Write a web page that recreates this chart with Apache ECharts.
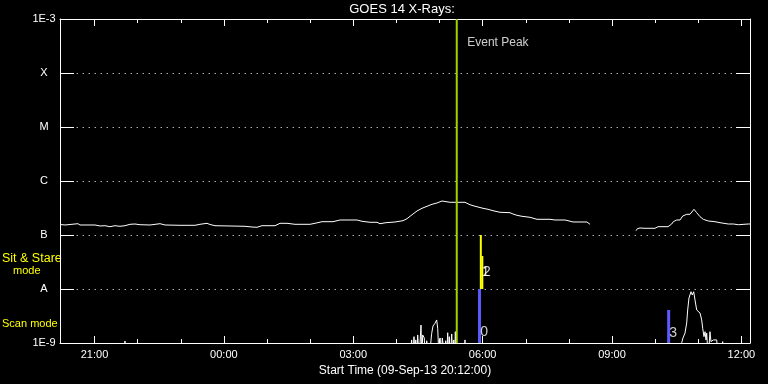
<!DOCTYPE html>
<html><head><meta charset="utf-8">
<script src="https://cdn.jsdelivr.net/npm/echarts@6/dist/echarts.min.js"></script>
<style>html,body{margin:0;padding:0;background:#000;}#c{width:768px;height:384px;}</style>
</head><body><div id="c"></div>
<script>
// Hours relative to 00:00 on 10-Sep-13 (start 20:12 on 09-Sep = -3.8)
const xTickHours = [-3, 0, 3, 6, 9, 12];
const xTickLabels = ['21:00', '00:00', '03:00', '06:00', '09:00', '12:00'];
const xMinorHours = [-3, -2, -1, 0, 1, 2, 3, 4, 5, 6, 7, 8, 9, 10, 11, 12];
const yTickExp = [-9, -8, -7, -6, -5, -4, -3];
const yTickLabels = ['1E-9', 'A', 'B', 'C', 'M', 'X', '1E-3'];

// GOES 14 long channel (1-8 A), W/m^2
const longA = [
[-3.800,1.565e-7],[-3.684,1.532e-7],[-3.383,1.619e-7],[-3.336,1.532e-7],[-2.988,1.532e-7],
[-2.872,1.468e-7],[-2.757,1.487e-7],[-2.641,1.425e-7],[-2.525,1.487e-7],[-2.409,1.449e-7],
[-2.293,1.487e-7],[-2.177,1.578e-7],[-2.061,1.598e-7],[-1.945,1.551e-7],[-1.713,1.532e-7],
[-1.481,1.619e-7],[-1.365,1.532e-7],[-1.017,1.512e-7],[-0.670,1.512e-7],[-0.554,1.578e-7],
[-0.391,1.647e-7],[-0.322,1.565e-7],[-0.206,1.487e-7],[0.142,1.468e-7],[0.490,1.449e-7],
[0.652,1.406e-7],[0.768,1.389e-7],[0.884,1.487e-7],[1.186,1.487e-7],[1.301,1.647e-7],
[1.464,1.647e-7],[1.649,1.578e-7],[1.997,1.578e-7],[2.113,1.647e-7],[2.275,1.763e-7],
[2.530,1.763e-7],[2.693,1.896e-7],[3.087,1.896e-7],[3.203,1.794e-7],[3.388,1.719e-7],
[3.551,1.719e-7],[3.620,1.619e-7],[3.759,1.690e-7],[3.968,1.741e-7],[4.154,1.840e-7],
[4.246,2.004e-7],[4.316,2.219e-7],[4.386,2.448e-7],[4.478,2.783e-7],[4.594,3.122e-7],
[4.710,3.400e-7],[4.826,3.703e-7],[4.942,3.914e-7],[5.058,4.263e-7],[5.243,4.033e-7],
[5.591,4.033e-7],[5.638,3.864e-7],[5.707,3.640e-7],[5.777,3.488e-7],[5.893,3.300e-7],
[6.009,3.122e-7],[6.125,2.991e-7],[6.241,2.818e-7],[6.403,2.633e-7],[6.635,2.588e-7],
[6.704,2.448e-7],[6.797,2.316e-7],[6.913,2.219e-7],[7.099,2.127e-7],[7.261,1.953e-7],
[7.562,1.953e-7],[7.678,1.896e-7],[7.910,1.896e-7],[7.980,1.840e-7],[8.096,1.741e-7],
[8.258,1.741e-7],[8.420,1.741e-7],[8.490,1.578e-7]
];
const longB = [
[9.557,1.201e-7],[9.587,1.308e-7],[9.649,1.348e-7],[9.765,1.331e-7],[9.997,1.331e-7],
[10.067,1.425e-7],[10.299,1.425e-7],[10.345,1.468e-7],[10.384,1.598e-7],[10.421,1.763e-7],
[10.500,1.896e-7],[10.577,1.896e-7],[10.640,2.248e-7],[10.732,2.417e-7],[10.809,2.417e-7],
[10.848,2.588e-7],[10.901,2.991e-7],[10.964,2.588e-7],[11.041,2.182e-7],[11.117,1.953e-7],
[11.233,1.817e-7],[11.388,1.763e-7],[11.504,1.690e-7],[11.697,1.598e-7],[11.813,1.598e-7],
[11.929,1.551e-7],[11.968,1.647e-7],[12.160,1.598e-7],[12.200,1.598e-7]
];
// short channel (0.5-4 A); 5e-10 = below the plotted range
const shortCh = [
[-3.800,5e-10],[-2.330,5e-10],[-2.293,1.09e-9],[-2.260,5e-10],
[4.300,5e-10],[4.355,1.14e-9],[4.380,5e-10],[4.409,1.31e-9],[4.430,5e-10],[4.449,1.14e-9],
[4.470,5e-10],[4.494,1.41e-9],[4.530,5e-10],[4.571,2.15e-9],[4.590,5e-10],[4.610,1.41e-9],
[4.647,1.24e-9],[4.670,5e-10],[4.703,1.10e-9],[4.760,5e-10],[4.819,1.51e-9],[4.849,2.06e-9],
[4.896,2.32e-9],[4.935,2.67e-9],[4.958,1.87e-9],[4.990,5e-10],[5.012,1.24e-9],[5.040,5e-10],
[5.065,1.24e-9],[5.104,1.31e-9],[5.125,5e-10],[5.144,1.10e-9],[5.165,5e-10],[5.190,1.55e-9],
[5.210,5e-10],[5.227,1.31e-9],[5.250,5e-10],[5.283,1.47e-9],[5.310,5e-10],[5.330,1.14e-9],
[5.350,5e-10],[5.367,1.62e-9],[5.390,5e-10],[5.570,5e-10],[5.591,1.14e-9],[5.610,5e-10],
[10.600,5e-10],[10.616,1.01e-9],[10.646,1.24e-9],[10.693,1.53e-9],[10.732,2.35e-9],
[10.755,4.08e-9],[10.785,6.81e-9],[10.832,8.91e-9],[10.862,7.74e-9],[10.894,8.91e-9],
[10.925,6.25e-9],[10.964,4.08e-9],[10.994,3.80e-9],[11.041,3.59e-9],[11.080,2.67e-9],
[11.103,1.87e-9],[11.133,1.31e-9],[11.157,1.62e-9],[11.180,1.14e-9],[11.196,1.53e-9],
[11.233,5e-10],[11.272,1.62e-9],[11.295,1.06e-9],[11.349,1.14e-9],[11.388,1.05e-9],
[11.428,1.14e-9],[11.458,5e-10],[11.567,1.06e-9],[11.600,5e-10],[12.200,5e-10]
];

const eventPeakHour = 5.40;
const eventPeakLabel = 'Event Peak';
const obsHours = [5.928, 5.958, 5.993, 10.314];
const obsBottom = [1e-9, 1e-8, 1e-8, 1e-9];
const obsTop = [1e-8, 1e-7, 4.08e-8, 4.08e-9];
const obsMode = ['scan', 'stare', 'stare', 'scan'];
const obsLabels = ['0', '1', '2', '3'];
const obsLabelFlux = [1.56e-9, 2.07e-8, 2.07e-8, 1.53e-9];

const FONT = 'Liberation Sans';
const WHITE = '#ffffff';
const modeColor = { scan: '#5a5aff', stare: '#ffff00' };
const modeWidth = { scan: 3, stare: 2 };

function xAxisDef(pos, major, showLine, showLabel) {
  const ticks = major ? xTickHours : xMinorHours;
  const a = {
    type: 'value', min: -3.8, max: 12.2, position: pos,
    axisLine: { show: showLine, onZero: false, lineStyle: { color: WHITE, width: 1 } },
    axisTick: { show: true, inside: true, length: major ? 7 : 4, customValues: ticks, lineStyle: { color: WHITE, width: 1 } },
    axisLabel: { show: showLabel },
    splitLine: { show: false }
  };
  if (showLabel) {
    a.axisLabel = {
      show: true, customValues: xTickHours, color: WHITE, fontFamily: FONT, fontSize: 11, margin: 6,
      formatter: v => xTickLabels[xTickHours.indexOf(Math.round(v))]
    };
    a.name = 'Start Time (09-Sep-13 20:12:00)';
    a.nameLocation = 'middle';
    a.nameGap = 19;
    a.nameTextStyle = { color: WHITE, fontFamily: FONT, fontSize: 12 };
  }
  return a;
}
function yAxisDef(pos, main) {
  return {
    type: 'log', logBase: 10, min: 1e-9, max: 1e-3, splitNumber: 6, interval: 1, position: pos,
    axisLine: { show: true, onZero: false, lineStyle: { color: WHITE, width: 1 } },
    axisTick: { show: true, inside: true, length: 14, lineStyle: { color: WHITE, width: 1 } },
    axisLabel: main ? {
      show: true, color: WHITE, fontFamily: FONT, fontSize: 11, align: 'center', margin: 16,
      formatter: v => yTickLabels[yTickExp.indexOf(Math.round(Math.log10(v)))] || ''
    } : { show: false },
    splitLine: main ? { show: true, lineStyle: { color: WHITE, width: 1, type: [1, 5], dashOffset: 1.3 } } : { show: false }
  };
}

const series = [];
series.push({ type: 'line', data: shortCh, symbol: 'none', lineStyle: { color: WHITE, width: 1 }, clip: true, z: 2 });
series.push({ type: 'line', data: longA, symbol: 'none', lineStyle: { color: WHITE, width: 1 }, clip: true, z: 2 });
series.push({ type: 'line', data: longB, symbol: 'none', lineStyle: { color: WHITE, width: 1 }, clip: true, z: 2 });
series.push({ type: 'line', data: [[eventPeakHour, 1e-9], [eventPeakHour, 1e-3]], symbol: 'none',
  lineStyle: { color: '#9fd400', width: 2 }, z: 3 });
obsHours.forEach((h, i) => {
  series.push({ type: 'line', data: [[h, obsBottom[i]], [h, obsTop[i]]], symbol: 'none',
    lineStyle: { color: modeColor[obsMode[i]], width: modeWidth[obsMode[i]] }, z: 4 });
});
series.push({
  type: 'scatter', symbolSize: 1, itemStyle: { color: 'rgba(0,0,0,0)' }, z: 5,
  data: obsHours.map((h, i) => [h, obsLabelFlux[i]]),
  label: { show: true, position: 'inside', offset: [4.5, 0], color: WHITE, fontFamily: FONT, fontSize: 14,
    formatter: p => obsLabels[p.dataIndex] }
});
series.push({
  type: 'scatter', symbolSize: 1, itemStyle: { color: 'rgba(0,0,0,0)' }, z: 5,
  data: [[eventPeakHour, 3.6e-4]],
  label: { show: true, position: 'right', distance: 10, color: WHITE, fontFamily: FONT, fontSize: 12,
    formatter: () => eventPeakLabel }
});

const option = {
  backgroundColor: '#000000',
  animation: false,
  grid: { left: 60, right: 18, top: 19, bottom: 41 },
  xAxis: [
    xAxisDef('bottom', true, true, true),
    xAxisDef('bottom', false, false, false),
    xAxisDef('top', true, true, false),
    xAxisDef('top', false, false, false)
  ],
  yAxis: [yAxisDef('left', true), yAxisDef('right', false)],
  graphic: [
    { type: 'text', x: 402, y: 9.5, style: { text: 'GOES 14 X-Rays:', fill: WHITE, font: '13px "Liberation Sans"', align: 'center', verticalAlign: 'middle' } },
    { type: 'text', x: 2, y: 258.5, style: { text: 'Sit & Stare', fill: '#ffff00', font: '12.5px "Liberation Sans"', align: 'left', verticalAlign: 'middle' } },
    { type: 'text', x: 13, y: 271, style: { text: 'mode', fill: '#ffff00', font: '11px "Liberation Sans"', align: 'left', verticalAlign: 'middle' } },
    { type: 'text', x: 2, y: 324, style: { text: 'Scan mode', fill: '#ffff00', font: '11px "Liberation Sans"', align: 'left', verticalAlign: 'middle' } }
  ],
  series: series
};
const chart = echarts.init(document.getElementById('c'), null, { renderer: 'canvas' });
chart.setOption(option);
</script></body></html>
